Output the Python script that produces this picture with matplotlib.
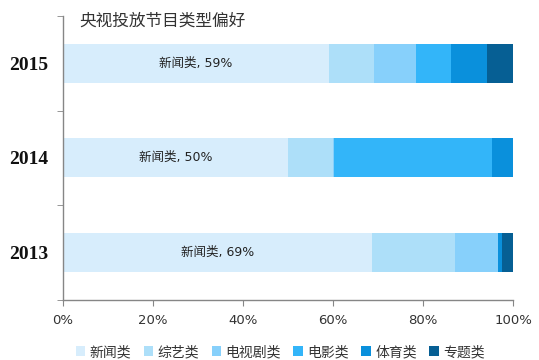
#!/usr/bin/env python3
# -*- coding: utf-8 -*-

import numpy as np
import matplotlib as mpl
import matplotlib.pyplot as plt
from matplotlib.patches import Patch
from matplotlib.ticker import FixedLocator, PercentFormatter

mpl.rcParams['font.family'] = ['Noto Sans CJK SC', 'DejaVu Sans']

years = ['2013', '2014', '2015']
categories = ['新闻类', '综艺类', '电视剧类', '电影类', '体育类', '专题类']
# share of each category per year, in %
news = [68.6, 50.0, 59.0]
variety = [18.5, 10.0, 10.0]
drama = [9.6, 0.3, 9.5]
movie = [0.0, 35.0, 7.8]
sports = [0.9, 4.7, 8.0]
special = [2.4, 0.0, 5.7]

colors = ['#d7edfc', '#addff9', '#87d0fb', '#33b5f9', '#0a90dc', '#065f94']


def main() -> None:
    series = [news, variety, drama, movie, sports, special]
    fig = plt.figure(figsize=(5.39, 3.6), dpi=100)
    ax = fig.add_axes([0.117, 0.167, 0.835, 0.789])

    y = np.arange(len(years))
    left = np.zeros(len(years))
    for vals, col in zip(series, colors):
        ax.barh(y, vals, left=left, height=0.41, color=col, edgecolor='none')
        left += np.array(vals)

    for i, v in enumerate(news):
        ax.text(v / 2, y[i], '新闻类, {}%'.format(int(round(v))),
                ha='center', va='center', fontsize=9, color='#222222',
                family=['DejaVu Sans', 'Noto Sans CJK SC'])

    ax.set_xlim(0, 100)
    ax.set_ylim(-0.5, 2.5)
    ax.xaxis.set_major_locator(FixedLocator([0, 20, 40, 60, 80, 100]))
    ax.xaxis.set_major_formatter(PercentFormatter(decimals=0))
    ax.set_yticks(y)
    ax.set_yticklabels(years, fontfamily='Liberation Serif', fontweight='bold',
                       fontsize=14, color='#111111')
    for lab in ax.get_xticklabels():
        lab.set_fontfamily('DejaVu Sans')
    ax.yaxis.set_minor_locator(FixedLocator([-0.5, 0.5, 1.5, 2.5]))
    ax.tick_params(axis='y', which='major', length=0, pad=11)
    ax.tick_params(axis='y', which='minor', length=4, color='#868686')
    ax.tick_params(axis='x', length=4, color='#868686', labelsize=9.5,
                   labelcolor='#333333', pad=6)

    for s in ['top', 'right']:
        ax.spines[s].set_visible(False)
    for s in ['left', 'bottom']:
        ax.spines[s].set_color('#868686')
        ax.spines[s].set_linewidth(1)

    fig.text(0.147, 0.942, '央视投放节目类型偏好', fontsize=12, color='#333333',
             ha='left', va='center')

    handles = [Patch(facecolor=c, edgecolor='none') for c in colors]
    fig.legend(handles, categories, loc='center', bbox_to_anchor=(0.52, 0.022),
               ncol=6, frameon=False, fontsize=10, handlelength=0.7,
               handleheight=0.7, handletextpad=0.3, columnspacing=0.9,
               labelcolor='#333333')

    fig.savefig('out.png', dpi=100, facecolor='white')


if __name__ == '__main__':
    main()
